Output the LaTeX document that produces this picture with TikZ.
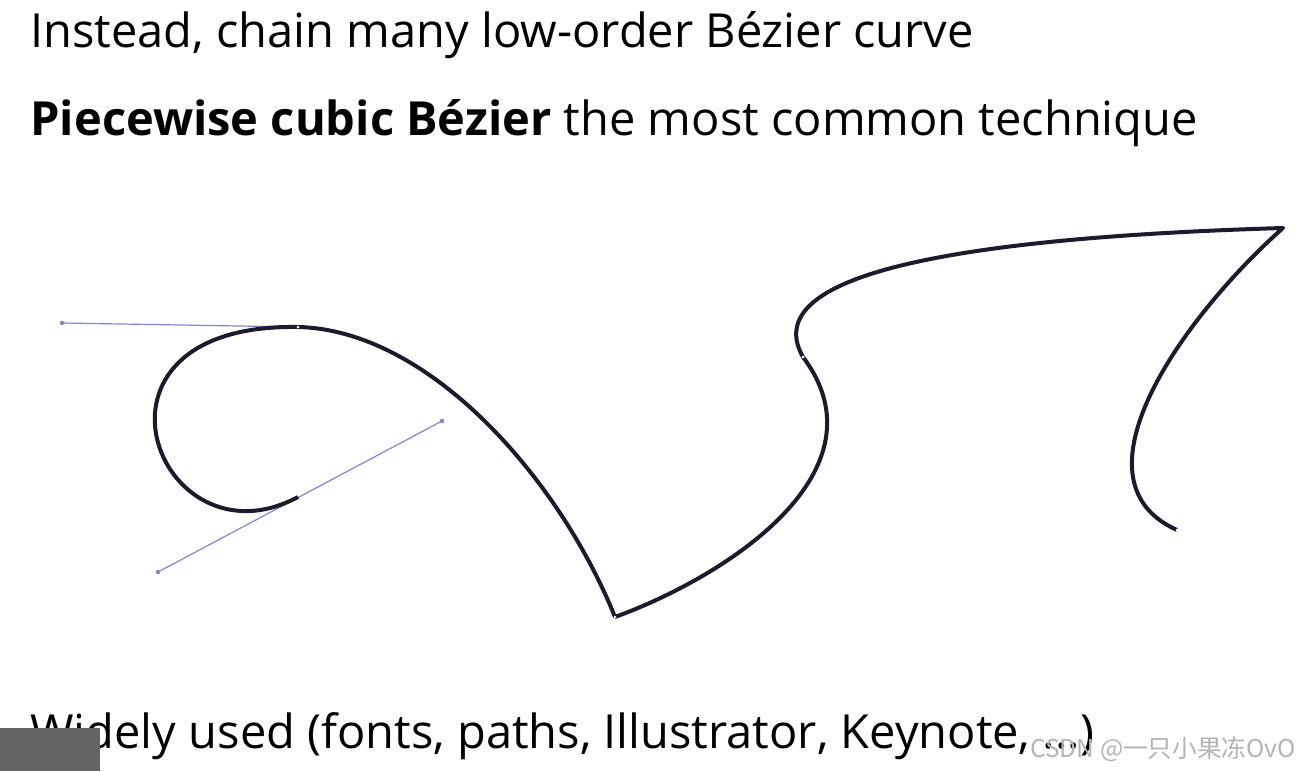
\documentclass[tikz,border=0pt]{standalone}
\usepackage{fontspec}
\setmainfont{Open Sans}
\newfontfamily\cjkwm{Noto Sans CJK SC}
\usepackage{xcolor}
\definecolor{curveink}{HTML}{1B1B2B}
\definecolor{handleblue}{HTML}{7F84D6}
\definecolor{wmgray}{HTML}{B4B4B4}
\definecolor{boxgray}{HTML}{646464}
\usepackage{tikz}
\usetikzlibrary{calc}

\begin{document}
\begin{tikzpicture}[x=0.5pt,y=-0.5pt]
      \useasboundingbox (0,0) rectangle (1300,771);
      \tikzset{
        slide/.style={anchor=base west, inner sep=0pt, font=\fontsize{23.5}{27}\selectfont},
        handle/.style={handleblue, line width=0.6pt},
        bez/.style={curveink, line width=2pt, line join=round}
      }
      \node[slide] (l1) at (30,47) {Instead, chain many low-order Bézier curve};
      \node[slide] (l2) at (30,135) {\textbf{Piecewise cubic Bézier} the most common technique};
      \node[slide] (l3) at (30,748) {Widely used (fonts, paths, Illustrator, Keynote, ...)};
      % anchor points of the chain
      \coordinate (a) at (298,497);
      \coordinate (b) at (298,327);
      \coordinate (c) at (615,617);
      \coordinate (d) at (803,357);
      \coordinate (e) at (1283,228);
      \coordinate (f) at (1177,530);
      % handles
      \coordinate (h1) at (158,572);
      \coordinate (h2) at (442,421);
      \coordinate (h3) at (62,323);
      \draw[handle] (h1) -- (h2) (h3) -- (b);
      \fill[handleblue] foreach \s in {h1,h2,h3}{(\s) circle [radius=2.2]};
      \draw[bez] (a) .. controls (h1) and (h3) .. (b)
        .. controls (430,330) and (560,480) .. (c)
        .. controls (730,575) and (888,470) .. (d)
        .. controls (765,290) and (880,240) .. (e)
        .. controls (1185,315) and (1065,480) .. (f);
      \fill[white] foreach \s in {b,c,d,f}{(\s) circle [radius=1.5]};
      % bottom overlays
      \fill[boxgray] (0,728) rectangle (100,771);
      \node[anchor=base east, inner sep=0pt, text=wmgray, font=\cjkwm\fontsize{12.3}{14}\selectfont] (wm) at (1296,757) {CSDN @一只小果冻OvO};
    \end{tikzpicture}
\end{document}
